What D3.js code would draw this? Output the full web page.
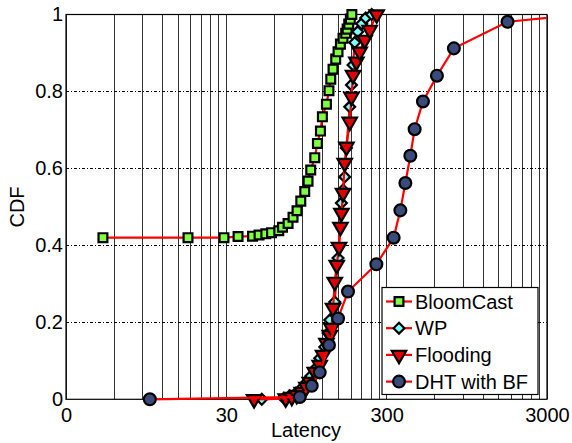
<!DOCTYPE html>
<html><head><meta charset="utf-8">
<script src="https://cdn.jsdelivr.net/npm/d3@7/dist/d3.min.js"></script>
<style>body{margin:0;background:#fff}svg{display:block}text{font-family:Arial,"Liberation Sans",sans-serif}</style>
</head><body><div id="chart"></div>
<script>
// ---- data ----
const seriesNames = ["BloomCast", "WP", "Flooding", "DHT with BF"];

const bloomLatency = [5.1, 17.3, 29, 35.5, 43.7, 48, 52.9, 57.4, 63.7, 67.2, 72.8, 78.2, 82.8, 87.4, 92.5, 97, 100.8, 106.8, 111, 115.9, 119.2, 126.3, 131, 134.4, 138.9, 144.3, 149.2, 154.4, 160.3, 166.6, 170, 174, 178, 182];
const bloomCDF     = [0.42, 0.42, 0.42, 0.423, 0.424, 0.427, 0.43, 0.433, 0.438, 0.447, 0.457, 0.473, 0.49, 0.515, 0.54, 0.567, 0.596, 0.628, 0.665, 0.697, 0.734, 0.767, 0.802, 0.832, 0.858, 0.884, 0.903, 0.923, 0.938, 0.951, 0.962, 0.975, 0.988, 1.0];

const wpLatency = [49.9, 68.5, 74.6, 81.3, 87.4, 93.8, 100.8, 108.3, 114.7, 123.3, 129.3, 132.5, 142.3, 149.2, 156.6, 160.3, 164.2, 168.3, 176.5, 180.9, 185.1, 189.6, 197.9, 209.6, 222, 241.9];
const wpCDF     = [0, 0.003, 0.009, 0.016, 0.027, 0.042, 0.06, 0.081, 0.107, 0.136, 0.172, 0.206, 0.253, 0.367, 0.51, 0.544, 0.578, 0.653, 0.76, 0.817, 0.869, 0.927, 0.955, 0.976, 0.991, 1.0];

const floodLatency = [44.7, 70.4, 76.8, 82.5, 88.6, 94.8, 99.4, 106.8, 114.7, 120.3, 126.3, 132.5, 135.7, 138.9, 142.3, 146.4, 151.3, 154.4, 156.6, 160.3, 164.2, 168.3, 176.5, 180.9, 185.1, 194.2, 203.7, 218.8, 235, 259.8];
const floodCDF     = [0, 0.002, 0.006, 0.011, 0.019, 0.032, 0.045, 0.071, 0.089, 0.115, 0.146, 0.167, 0.185, 0.237, 0.305, 0.349, 0.396, 0.448, 0.484, 0.536, 0.614, 0.656, 0.721, 0.786, 0.843, 0.877, 0.903, 0.934, 0.96, 1.0];

const dhtLatency = [10.0, 86.1, 102.3, 114.7, 131, 149.2, 172.2, 258.7, 331.6, 365.2, 392.4, 421.4, 448.3, 505.1, 617.4, 787.7, 1702, 5000];
const dhtCDF     = [0, 0.006, 0.035, 0.07, 0.141, 0.21, 0.28, 0.351, 0.42, 0.491, 0.562, 0.633, 0.702, 0.774, 0.841, 0.912, 0.981, 1.0];

const xTickValues = [3, 30, 300, 3000];
const xTickLabels = ["0", "30", "300", "3000"];
const yTickValues = [0, 0.2, 0.4, 0.6, 0.8, 1];
const yTickLabels = ["0", "0.2", "0.4", "0.6", "0.8", "1"];

// ---- chart ----
const W = 572, H = 443;
const L = 66, R = 547, T = 14.5, B = 399.3;
const svg = d3.select("#chart").append("svg").attr("width", W).attr("height", H);

const x = d3.scaleLog().domain([3, 3000]).range([L, R]);
const y = d3.scaleLinear().domain([0, 1]).range([B, T]);

svg.append("defs").append("clipPath").attr("id", "clip")
  .append("rect").attr("x", L).attr("y", 0).attr("width", R - L).attr("height", H);

// vertical grid (log minor+major)
const gridX = [];
for (let dec = 3; dec < 3000; dec *= 10) for (let k = 1; k <= 9; k++) gridX.push(dec * k);
gridX.push(3000);
svg.append("g").selectAll("line").data(gridX).join("line")
  .attr("x1", d => x(d)).attr("x2", d => x(d)).attr("y1", T).attr("y2", B)
  .attr("stroke", "#333").attr("stroke-width", 1).attr("shape-rendering", "crispEdges");

// horizontal grid (dotted)
svg.append("g").selectAll("line").data(yTickValues.slice(1, -1)).join("line")
  .attr("x1", L).attr("x2", R).attr("y1", d => y(d)).attr("y2", d => y(d))
  .attr("stroke", "#000").attr("stroke-width", 1).attr("stroke-dasharray", "3,2,1,2")
  .attr("shape-rendering", "crispEdges");

// axes
const xAxis = svg.append("g").attr("transform", `translate(0,${B})`)
  .call(d3.axisBottom(x).tickValues(xTickValues).tickFormat((d, i) => xTickLabels[i]).tickSize(0).tickPadding(9));
const yAxis = svg.append("g").attr("transform", `translate(${L},0)`)
  .call(d3.axisLeft(y).tickValues(yTickValues).tickFormat((d, i) => yTickLabels[i]).tickSize(0).tickPadding(3));
[xAxis, yAxis].forEach(a => {
  a.select(".domain").remove();
  a.selectAll("text").attr("font-size", 20).attr("fill", "#000");
});

// box
svg.append("rect").attr("x", L).attr("y", T).attr("width", R - L).attr("height", B - T)
  .attr("fill", "none").attr("stroke", "#000").attr("stroke-width", 1.2);

// series
const sym = {
  square: d3.symbol().type(d3.symbolSquare).size(78),
  diamond: d3.symbol().type(d3.symbolDiamond2 || d3.symbolDiamond).size(75),
  triangle: d3.symbol().type(d3.symbolTriangle).size(90),
  circle: d3.symbol().type(d3.symbolCircle).size(110)
};
const series = [
  {name: seriesNames[0], xs: bloomLatency, ys: bloomCDF, shape: "square", fill: "#80ff40", rot: 0},
  {name: seriesNames[1], xs: wpLatency, ys: wpCDF, shape: "diamond", fill: "#80ffff", rot: 0},
  {name: seriesNames[2], xs: floodLatency, ys: floodCDF, shape: "triangle", fill: "#e00000", rot: 180},
  {name: seriesNames[3], xs: dhtLatency, ys: dhtCDF, shape: "circle", fill: "#3a4a7a", rot: 0}
];
const line = d3.line().x(d => x(d[0])).y(d => y(d[1]));

series.forEach(s => {
  const pts = s.xs.map((v, i) => [v, s.ys[i]]);
  const g = svg.append("g");
  g.append("path").datum(pts).attr("d", line).attr("clip-path", "url(#clip)")
    .attr("fill", "none").attr("stroke", "#ff0000").attr("stroke-width", 2.2);
  g.selectAll("path.m").data(pts.filter(p => p[0] <= 3000)).join("path").attr("class", "m")
    .attr("d", sym[s.shape])
    .attr("transform", d => `translate(${x(d[0])},${y(d[1])}) rotate(${s.rot})`)
    .attr("fill", s.fill).attr("stroke", "#000").attr("stroke-width", 2.2);
});

// labels
svg.append("text").attr("x", 306).attr("y", 437).attr("text-anchor", "middle")
  .attr("font-size", 20).text("Latency");
svg.append("text").attr("transform", "translate(24,207) rotate(-90)").attr("text-anchor", "middle")
  .attr("font-size", 20).text("CDF");

// legend
const lg = svg.append("g");
lg.append("rect").attr("x", 382).attr("y", 287.5).attr("width", 156).attr("height", 107)
  .attr("fill", "#fff").attr("stroke", "#000").attr("stroke-width", 1.2);
series.forEach((s, i) => {
  const cy = 301.5 + i * 26.7;
  lg.append("line").attr("x1", 386).attr("x2", 412).attr("y1", cy).attr("y2", cy)
    .attr("stroke", "#ff0000").attr("stroke-width", 2.2);
  lg.append("path").attr("d", sym[s.shape]).attr("transform", `translate(399,${cy}) rotate(${s.rot})`)
    .attr("fill", s.fill).attr("stroke", "#000").attr("stroke-width", 2.2);
  lg.append("text").attr("x", 415).attr("y", cy + 7).attr("font-size", 20).text(s.name);
});
</script>
</body></html>
